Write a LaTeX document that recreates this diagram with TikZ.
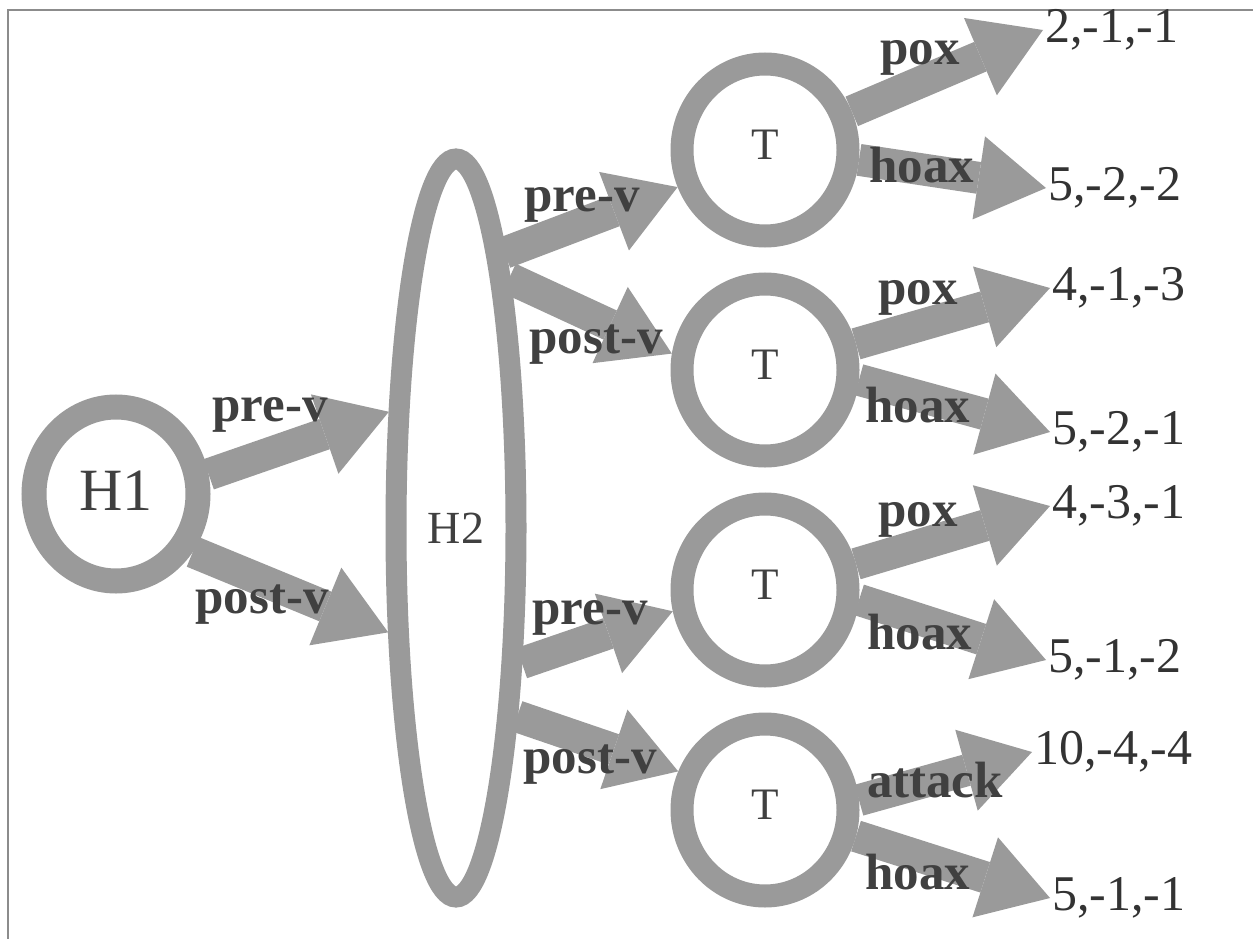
\documentclass[tikz,border=0pt]{standalone}
\usepackage{fontspec}
\setmainfont{Liberation Serif}
\usetikzlibrary{shapes.geometric,arrows.meta}
\definecolor{arrgray}{HTML}{9A9A9A}
\definecolor{lblgray}{HTML}{404040}
\definecolor{numgray}{HTML}{333333}
\definecolor{framegray}{HTML}{8C8C8C}
\begin{document}
\begin{tikzpicture}[x=1pt,y=-1pt,
  hnode/.style={ellipse, draw=arrgray, inner sep=0pt, text=lblgray},
  tnode/.style={ellipse, draw=arrgray, line width=23pt, minimum width=166pt, minimum height=172pt, inner sep=0pt, text=lblgray, font=\fontsize{45}{45}\selectfont},
  arr/.style={draw=arrgray, line width=32pt, -{Triangle[length=68pt,width=84pt,line width=0pt]}},
  elbl/.style={font=\bfseries\fontsize{51}{51}\selectfont, text=lblgray, inner sep=0pt},
  num/.style={anchor=west, font=\fontsize{50}{50}\selectfont, text=numgray, inner sep=2pt},
]
\path[use as bounding box] (0,0) rectangle (1253,939);
\coordinate (fb) at (8,939);
\coordinate (fc) at (8,10);
\coordinate (fr) at (1253,10);
\draw[framegray, line width=1.5pt] (fb) -- (fc) -- (fr);

\node[hnode, line width=25pt, minimum width=164pt, minimum height=174pt, font=\fontsize{60}{60}\selectfont] (H1) at (116,494) {\raisebox{6pt}{H1}};
\node[hnode, line width=21pt, minimum width=120pt, minimum height=738pt, font=\fontsize{46}{46}\selectfont] (H2) at (456,528) {H2};
\node[tnode] (T1) at (765,150) {\raisebox{10pt}{T}};
\node[tnode] (T2) at (765,370) {\raisebox{10pt}{T}};
\node[tnode] (T3) at (765,590) {\raisebox{10pt}{T}};
\node[tnode] (T4) at (765,810) {\raisebox{10pt}{T}};

\node[num] (o1) at (1043,30) {2,-1,-1};
\node[num] (o2) at (1046,188) {5,-2,-2};
\node[num] (o3) at (1050,288) {4,-1,-3};
\node[num] (o4) at (1050,432) {5,-2,-1};
\node[num] (o5) at (1050,506) {4,-3,-1};
\node[num] (o6) at (1046,660) {5,-1,-2};
\node[num] (o7) at (1032,752) {10,-4,-4};
\node[num] (o8) at (1050,898) {5,-1,-1};

\draw[arr] (H1.12) -- (H2.120);
\draw[arr] (H1.-37) -- (H2.237);
\draw[arr] (H2.80) -- (T1.203);
\draw[arr] (H2.78) -- (T2.170);
\draw[arr] (H2.-64) -- (T3.193);
\draw[arr] (H2.-72) -- (T4.156);

\draw[arr] (T1.24) -- (o1.west);
\draw[arr] (T1.-6) -- (o2.west);
\draw[arr] (T2.16) -- (o3.west);
\draw[arr] (T2.-6) -- (o4.west);
\draw[arr] (T3.16) -- (o5.west);
\draw[arr] (T3.-6) -- (o6.west);
\draw[arr] (T4.6) -- (o7.west);
\draw[arr] (T4.-16) -- (o8.west);

\node[elbl] (l1) at (270,415) {pre-v};
\node[elbl] (l2) at (262,605) {post-v};
\node[elbl] (l3) at (582,205) {pre-v};
\node[elbl] (l4) at (596,345) {post-v};
\node[elbl] (l5) at (590,618) {pre-v};
\node[elbl] (l6) at (590,765) {post-v};
\node[elbl] (l7) at (920,58) {pox};
\node[elbl] (l8) at (922,165) {hoax};
\node[elbl] (l9) at (918,298) {pox};
\node[elbl] (l10) at (918,405) {hoax};
\node[elbl] (l11) at (918,520) {pox};
\node[elbl] (l12) at (920,632) {hoax};
\node[elbl] (l13) at (935,780) {attack};
\node[elbl] (l14) at (918,872) {hoax};
\end{tikzpicture}
\end{document}
